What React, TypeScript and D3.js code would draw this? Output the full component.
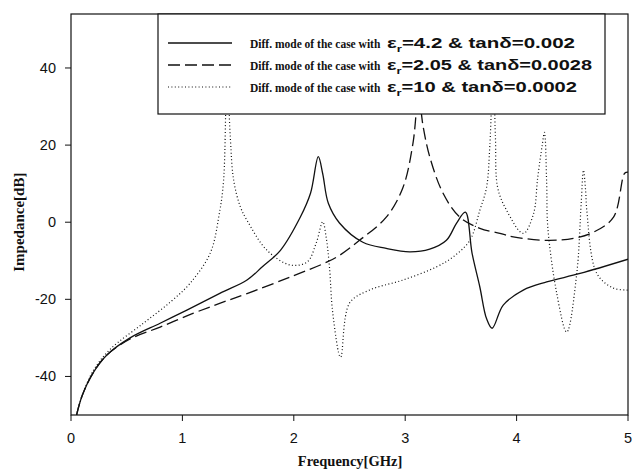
import React from "react";
import * as d3 from "d3";

// Frequency sweep points [GHz] and impedance [dB] for each differential-mode case
const freqEr42 = [0.05, 0.1, 0.2, 0.32, 0.53, 0.8, 1.04, 1.34, 1.58, 1.72, 1.88, 2.06, 2.15, 2.22, 2.26, 2.31, 2.41, 2.62, 2.83, 3.04, 3.22, 3.37, 3.46, 3.54, 3.6, 3.67, 3.73, 3.78, 3.88, 4.06, 4.27, 4.57, 5.0];
const zEr42 = [-50, -45, -39, -34.5, -30, -26.2, -22.8, -18.4, -15, -11.5, -7.3, 1.4, 7.5, 17, 12.5, 4.9, -0.2, -5.2, -6.8, -7.7, -7, -4.7, -0.3, 2.6, -8, -16.8, -25, -27.5, -21.5, -17.6, -15.5, -13.3, -9.6];

const freqEr205 = [0.05, 0.1, 0.2, 0.32, 0.53, 0.8, 1.1, 1.34, 1.58, 1.97, 2.3, 2.41, 2.59, 2.83, 2.98, 3.07, 3.12, 3.16, 3.22, 3.34, 3.49, 3.67, 3.85, 3.97, 4.27, 4.51, 4.69, 4.87, 4.97, 5.0];
const zEr205 = [-50, -45, -39, -34.5, -30.3, -27.2, -23.6, -21, -18.5, -14.2, -10.3, -8.6, -4.7, 1.3, 9, 20.5, 33, 25, 17, 7.5, 1.3, -1.6, -2.9, -3.8, -4.7, -4.2, -2.6, 1.3, 12.7, 13];

const freqEr10 = [0.05, 0.1, 0.2, 0.35, 0.65, 0.9, 1.07, 1.25, 1.33, 1.37, 1.4, 1.43, 1.46, 1.52, 1.58, 1.76, 1.97, 2.12, 2.2, 2.26, 2.29, 2.32, 2.35, 2.42, 2.5, 2.68, 2.98, 3.28, 3.43, 3.58, 3.67, 3.73, 3.76, 3.79, 3.81, 3.83, 3.91, 4.06, 4.15, 4.19, 4.23, 4.25, 4.27, 4.28, 4.36, 4.45, 4.54, 4.58, 4.6, 4.62, 4.63, 4.72, 4.87, 5.0];
const zEr10 = [-50, -45, -38.5, -33, -26.2, -20.5, -15.8, -8, 2, 10.9, 40, 22, 10.9, 4, 0.5, -7.3, -11.1, -10.3, -5.5, 0.1, -3.8, -11.6, -23.6, -35, -21, -17.6, -15, -11.6, -9, -4.7, 3.1, 9, 20, 40, 22, 9, 3.1, -2.9, 2, 11.7, 20, 23.3, 10, -1.3, -18.4, -28.5, -13.3, 5, 13.5, 8, 3.1, -13.3, -17.1, -17.6];

const xTicks = [0, 1, 2, 3, 4, 5];
const yTicks = [-40, -20, 0, 20, 40];

const legendPrefix = "Diff. mode of the case with";
const legendEr = ["4.2", "2.05", "10"];
const legendTan = ["0.002", "0.0028", "0.0002"];
const dashes = ["none", "12,5", "1,2.4"];

const W = 633;
const H = 471;
const left = 71;
const right = 628;
const top = 14;
const bottom = 415;

export default function App() {
  const x = d3.scaleLinear().domain([0, 5]).range([left, right]);
  const y = d3.scaleLinear().domain([-50, 54]).range([bottom, top]);
  const line = d3
    .line<[number, number]>()
    .x((d) => x(d[0]))
    .y((d) => y(d[1]))
    .curve(d3.curveCatmullRom.alpha(0.5));

  const series = [
    freqEr42.map((f, i) => [f, zEr42[i]] as [number, number]),
    freqEr205.map((f, i) => [f, zEr205[i]] as [number, number]),
    freqEr10.map((f, i) => [f, zEr10[i]] as [number, number]),
  ];

  const lg = { x0: 158, x1: 605, y0: 14, y1: 114 };
  const rowY = [43, 65, 87];
  // width of the "εr=... & tanδ=..." part in each row
  const tailWidth = [188, 205, 190];

  return (
    <svg width={W} height={H} style={{ position: "absolute", left: 0, top: 0, background: "#fff" }}>
      <defs>
        <clipPath id="plotClip">
          <rect x={left} y={top} width={right - left} height={bottom - top} />
        </clipPath>
      </defs>
      <rect width={W} height={H} fill="#fff" />
      <g clipPath="url(#plotClip)">
        {series.map((s, i) => (
          <path
            key={i}
            d={line(s) || ""}
            fill="none"
            stroke="#111"
            strokeWidth={i === 2 ? 1.2 : 1.3}
            strokeDasharray={dashes[i]}
          />
        ))}
      </g>
      {/* frame */}
      <rect x={left} y={top} width={right - left} height={bottom - top} fill="none" stroke="#111" strokeWidth={1.2} />
      {/* x axis ticks */}
      {xTicks.map((t) => (
        <g key={t}>
          <line x1={x(t)} x2={x(t)} y1={bottom} y2={bottom + 6} stroke="#111" />
          <text x={x(t)} y={443} textAnchor="middle" fontFamily="Liberation Sans, Arial" fontSize={14.5} fill="#111">
            {t}
          </text>
        </g>
      ))}
      {/* y axis ticks */}
      {yTicks.map((t) => (
        <g key={t}>
          <line x1={left - 6} x2={left} y1={y(t)} y2={y(t)} stroke="#111" />
          <text x={56} y={y(t) + 5} textAnchor="end" fontFamily="Liberation Sans, Arial" fontSize={14.5} fill="#111">
            {t}
          </text>
        </g>
      ))}
      <text x={350} y={466} textAnchor="middle" fontFamily="Liberation Serif, Times New Roman" fontWeight="bold" fontSize={14.5} fill="#111">
        Frequency[GHz]
      </text>
      <text
        transform={`translate(24, ${y(0)}) rotate(-90)`}
        textAnchor="middle"
        fontFamily="Liberation Serif, Times New Roman"
        fontWeight="bold"
        fontSize={15}
        fill="#111"
      >
        Impedance[dB]
      </text>
      {/* legend */}
      <rect x={lg.x0} y={lg.y0} width={lg.x1 - lg.x0} height={lg.y1 - lg.y0} fill="#fff" stroke="#111" strokeWidth={1.2} />
      {legendEr.map((er, i) => (
        <g key={i}>
          <line x1={168} x2={232} y1={rowY[i]} y2={rowY[i]} stroke="#111" strokeWidth={i === 2 ? 1.2 : 1.3} strokeDasharray={dashes[i]} />
          <text
            x={250}
            y={rowY[i] + 4.5}
            fontSize={11.5}
            fontFamily="Liberation Serif, Times New Roman"
            fontWeight="bold"
            fill="#111"
          >
            {legendPrefix}
          </text>
          <text
            x={387}
            y={rowY[i] + 5}
            fontSize={14}
            fontFamily="Liberation Sans, Arial"
            fontWeight="bold"
            fill="#111"
            textLength={tailWidth[i]}
            lengthAdjust="spacingAndGlyphs"
          >
            <tspan>ε</tspan>
            <tspan fontSize={9} dy={4}>r</tspan>
            <tspan dy={-4}>{`=${er} & tanδ=${legendTan[i]}`}</tspan>
          </text>
        </g>
      ))}
    </svg>
  );
}
